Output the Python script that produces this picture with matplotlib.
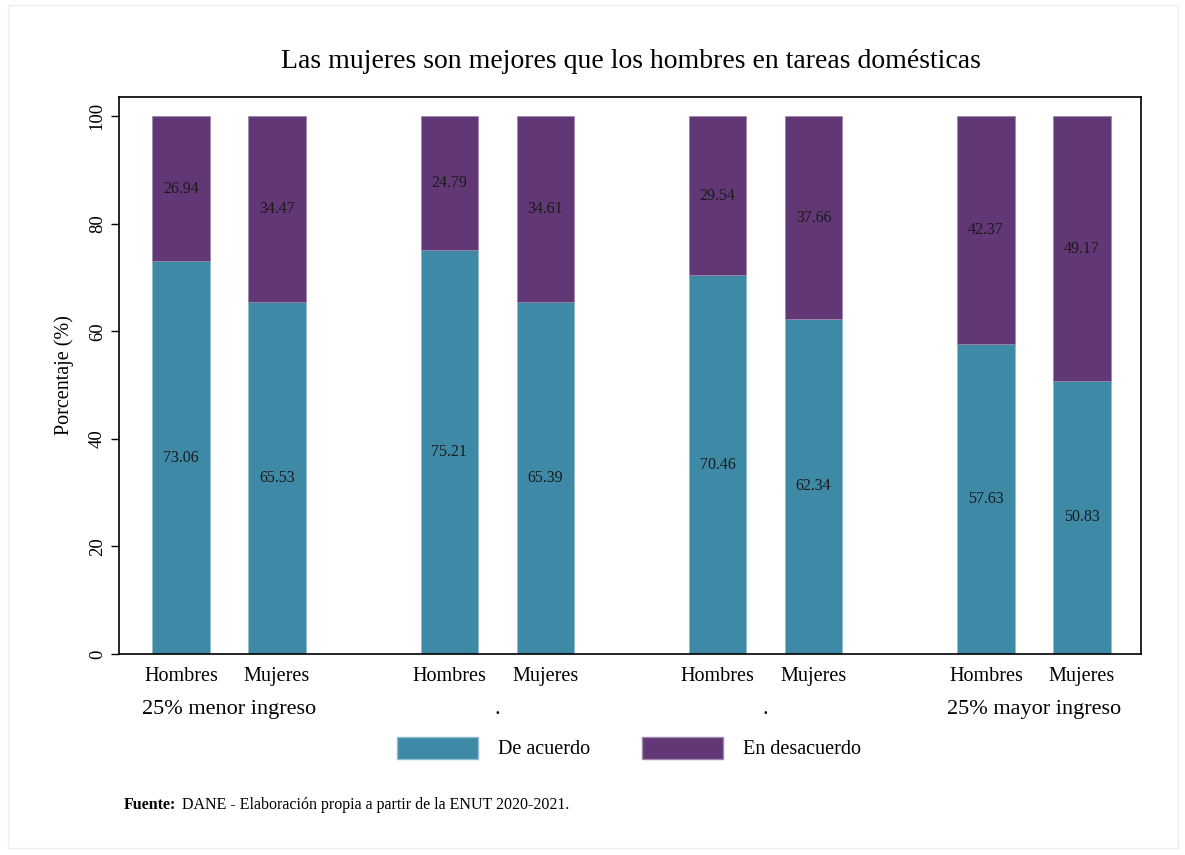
import matplotlib
matplotlib.use("Agg")
import matplotlib.pyplot as plt
from matplotlib.patches import Rectangle, Patch

# Data
grupos = ["25% menor ingreso", ".", ".", "25% mayor ingreso"]
sexos = ["Hombres", "Mujeres"]
de_acuerdo = [73.06, 65.53, 75.21, 65.39, 70.46, 62.34, 57.63, 50.83]
en_desacuerdo = [26.94, 34.47, 24.79, 34.61, 29.54, 37.66, 42.37, 49.17]

teal = "#3E89A6"
purple = "#613875"

plt.rcParams["font.family"] = ["Liberation Serif", "DejaVu Serif"]

fig = plt.figure(figsize=(11.85, 8.55), dpi=100)
ax = fig.add_axes([119 / 1185, 1 - 654 / 855, (1141 - 119) / 1185, (654 - 97) / 855])

# bar positions: two bars per group
step = 2.795
xs = []
for g in range(len(grupos)):
    for s in range(len(sexos)):
        xs.append(g * step + s)

w = 0.6
ax.bar(xs, de_acuerdo, width=w, color=teal, edgecolor="#8fb9cc", linewidth=0.5)
ax.bar(xs, en_desacuerdo, width=w, bottom=de_acuerdo, color=purple,
       edgecolor="#9c86aa", linewidth=0.5)

for x, a, d in zip(xs, de_acuerdo, en_desacuerdo):
    ax.text(x, a / 2, f"{a:.2f}", ha="center", va="center", fontsize=11.5, color="#1a1a1a")
    ax.text(x, a + d / 2, f"{d:.2f}", ha="center", va="center", fontsize=11.5, color="#1a1a1a")

ax.set_xlim(-0.646, 10.0)
ax.set_ylim(0, 103.6)
ax.set_yticks([0, 20, 40, 60, 80, 100])
ax.tick_params(axis="y", labelrotation=90, labelsize=13.5, length=6, width=1)
for lab in ax.get_yticklabels():
    lab.set_va("center")
ax.set_xticks(xs)
ax.set_xticklabels(sexos * len(grupos), fontsize=14.5)
ax.tick_params(axis="x", length=0, pad=9)
ax.set_ylabel("Porcentaje (%)", fontsize=14.5, labelpad=11)
for sp in ax.spines.values():
    sp.set_linewidth(1.2)

# group labels under the axis
for g, name in enumerate(grupos):
    ax.annotate(name, xy=(g * step + 0.5, 0), xycoords=("data", "axes fraction"),
                xytext=(0, -40), textcoords="offset points", ha="center", va="center",
                fontsize=16)

fig.text(631 / 1185, 1 - 62 / 855, "Las mujeres son mejores que los hombres en tareas domésticas",
         ha="center", va="center", fontsize=20)

handles = [Patch(facecolor=teal, edgecolor="#8fb9cc"), Patch(facecolor=purple, edgecolor="#9c86aa")]
fig.legend(handles, ["De acuerdo", "En desacuerdo"], loc="center",
           bbox_to_anchor=(629 / 1185, 1 - 748 / 855), ncol=2, frameon=False,
           fontsize=14.5, handlelength=4.0, handleheight=1.3, columnspacing=2.6, handletextpad=1.0)

fig.text(124 / 1185, 1 - 805 / 855, "Fuente:", ha="left", va="center", fontsize=11.5,
         fontweight="bold")
fig.text(182 / 1185, 1 - 805 / 855, "DANE - Elaboración propia a partir de la ENUT 2020-2021.",
         ha="left", va="center", fontsize=11.5)

fig.patches.append(Rectangle((8 / 1185, 1 - 848 / 855), 1170 / 1185, 843 / 855,
                             transform=fig.transFigure, fill=False, edgecolor="#eeeeee",
                             linewidth=1))

fig.savefig("out.png", dpi=100, facecolor="white")
